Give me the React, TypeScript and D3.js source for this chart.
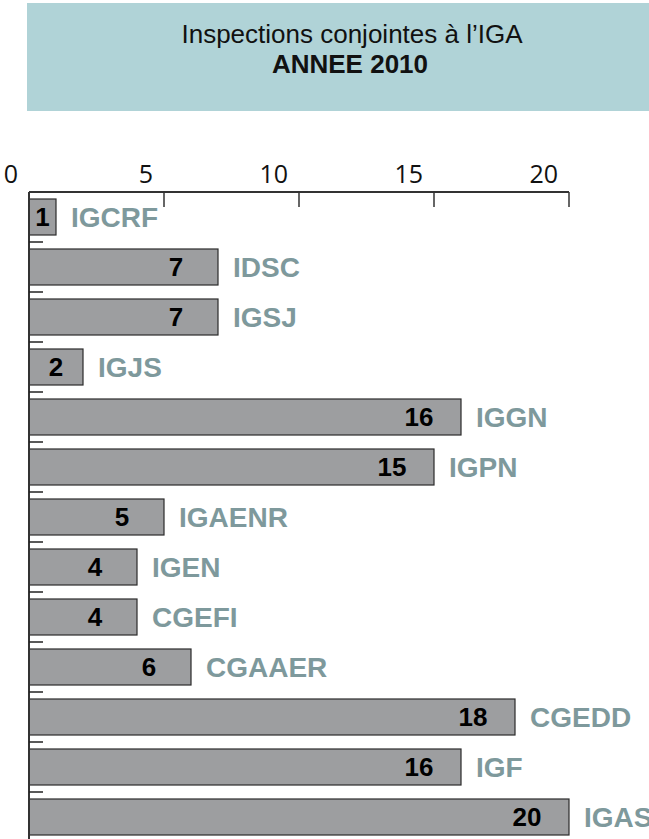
import React from "react";
import * as d3 from "d3";

// Inspections conjointes à l'IGA, année 2010
const services = [
  "IGCRF", "IDSC", "IGSJ", "IGJS", "IGGN", "IGPN", "IGAENR",
  "IGEN", "CGEFI", "CGAAER", "CGEDD", "IGF", "IGAS",
];
const counts = [1, 7, 7, 2, 16, 15, 5, 4, 4, 6, 18, 16, 20];
const tickValues = [0, 5, 10, 15, 20];

const W = 649;
const H = 839;

const App = () => {
  const top = 192;
  const left = 29;

  const x = d3.scaleLinear().domain([0, 20]).range([left, left + 540]);
  const y = d3
    .scaleBand<string>()
    .domain(services)
    .range([top, top + services.length * 50])
    .paddingInner(0.28)
    .paddingOuter(0.14);

  const bw = y.bandwidth();
  const halfGap = (y.step() - bw) / 2;

  return (
    <svg
      width={W}
      height={H}
      style={{ position: "absolute", left: 0, top: 0, background: "#fff" }}
    >
      {/* ---- title box ---- */}
      <rect x={27} y={3} width={W} height={108} fill="#b0d3d7" />
      <text
        x={352}
        y={43}
        textAnchor="middle"
        fontFamily="Liberation Sans, Arial, sans-serif"
        fontSize={26}
        fill="#111"
      >
        Inspections conjointes à l’IGA
      </text>
      <text
        x={350}
        y={73}
        textAnchor="middle"
        fontFamily="Liberation Sans, Arial, sans-serif"
        fontSize={26}
        fontWeight="bold"
        fill="#111"
      >
        ANNEE 2010
      </text>

      {/* ---- bars ---- */}
      {services.map((s, i) => {
        const y0 = y(s) as number;
        const x1 = x(counts[i]);
        const labelX = Math.max(x1 - 42, (left + x1) / 2);
        return (
          <g key={s}>
            <rect
              x={left}
              y={y0}
              width={x1 - left}
              height={bw}
              fill="#9d9ea0"
              stroke="#2b2b2b"
              strokeWidth={1.2}
            />
            <text
              x={labelX}
              y={y0 + bw / 2 + 9}
              textAnchor="middle"
              fontFamily="Liberation Sans, Arial, sans-serif"
              fontSize={26}
              fontWeight="bold"
              fill="#000"
            >
              {counts[i]}
            </text>
            <text
              x={x1 + 15}
              y={y0 + bw / 2 + 10}
              fontFamily="Liberation Sans, Arial, sans-serif"
              fontSize={28}
              fontWeight="bold"
              fill="#7e999c"
            >
              {s}
            </text>
          </g>
        );
      })}

      {/* ---- category axis (left) ---- */}
      <line x1={left} x2={left} y1={top} y2={H} stroke="#333" strokeWidth={2} />
      {services.map((s) => {
        const ty = (y(s) as number) - halfGap;
        return (
          <line
            key={"t" + s}
            x1={left}
            x2={left + 14}
            y1={ty}
            y2={ty}
            stroke="#222"
            strokeWidth={1.5}
          />
        );
      })}

      {/* ---- value axis (top) ---- */}
      <line
        x1={left}
        x2={x(20)}
        y1={top}
        y2={top}
        stroke="#333"
        strokeWidth={1.8}
      />
      {tickValues.map((v) => (
        <g key={v}>
          <line
            x1={x(v)}
            x2={x(v)}
            y1={top}
            y2={top + 15}
            stroke="#333"
            strokeWidth={1.5}
          />
          <text
            x={x(v) - 11}
            y={183}
            textAnchor="end"
            fontFamily="Open Sans, sans-serif"
            fontSize={25}
            fill="#111"
          >
            {v}
          </text>
        </g>
      ))}
    </svg>
  );
};

export default App;
